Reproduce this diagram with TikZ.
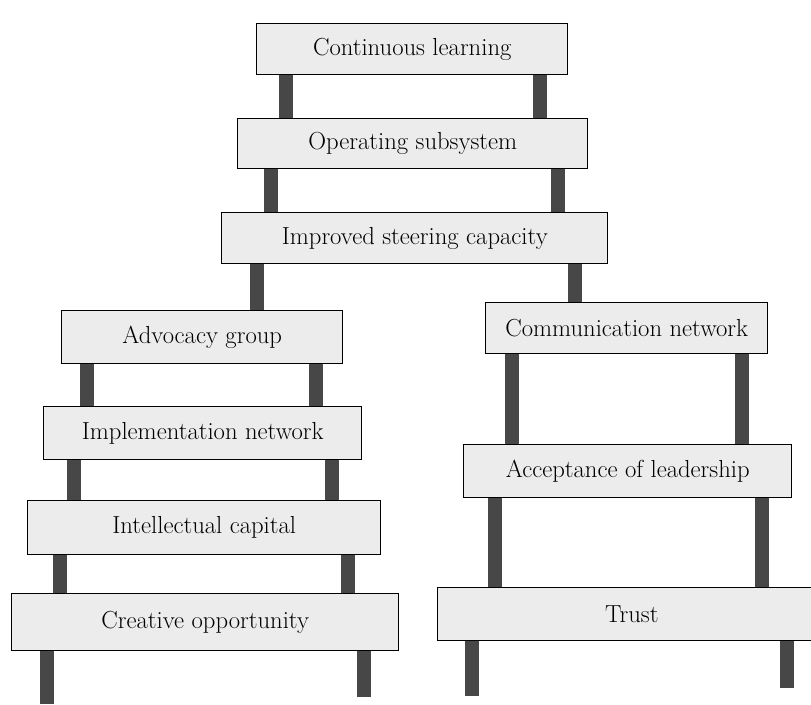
\documentclass[tikz,border=0pt]{standalone}
\usetikzlibrary{positioning}

\begin{document}
\begin{tikzpicture}[x=0.75pt,y=-0.75pt,
	rung/.style={draw=black, line width=1.1pt, fill=gray!15, anchor=north west,
		inner sep=0pt, font=\fontsize{18.5}{22}\selectfont},
	post/.style={draw=black!72, line width=10pt}]
	\clip (0,0) rectangle (811,704);
	\fill[white] (0,0) rectangle (811,704);
	% top ladder
	\node[rung, minimum width=233.25pt, minimum height=38.25pt] (cl) at (256,23) {Continuous learning};
	\node[rung, minimum width=262.5pt, minimum height=37.5pt] (os) at (237,118) {Operating subsystem};
	\node[rung, minimum width=289.5pt, minimum height=38.25pt] (isc) at (221,212) {Improved steering capacity};
	% left ladder
	\node[rung, minimum width=210.75pt, minimum height=39.75pt] (ag) at (61,310) {Advocacy group};
	\node[rung, minimum width=238.5pt, minimum height=39.75pt] (in) at (43,406) {Implementation network};
	\node[rung, minimum width=264.75pt, minimum height=40.5pt] (ic) at (27,500) {Intellectual capital};
	\node[rung, minimum width=290.25pt, minimum height=42.75pt] (co) at (11,593) {Creative opportunity};
	% right ladder
	\node[rung, minimum width=211.5pt, minimum height=38.25pt] (cn) at (485,302) {Communication network};
	\node[rung, minimum width=246pt, minimum height=39.75pt] (al) at (463,444) {Acceptance of leadership};
	\node[rung, minimum width=291pt, minimum height=39.75pt] (tr) at (437,587) {Trust};
	% feet of the posts
	\coordinate (coL) at (47,704);
	\coordinate (coR) at (364,697);
	\coordinate (trL) at (472,696);
	\coordinate (trR) at (787,688);
	% posts
	\draw[post] (286,0 |- cl.south) -- (286,0 |- os.north);
	\draw[post] (540,0 |- cl.south) -- (540,0 |- os.north);
	\draw[post] (271,0 |- os.south) -- (271,0 |- isc.north);
	\draw[post] (558,0 |- os.south) -- (558,0 |- isc.north);
	\draw[post] (257,0 |- isc.south) -- (257,0 |- ag.north);
	\draw[post] (575,0 |- isc.south) -- (575,0 |- cn.north);
	\draw[post] (87,0 |- ag.south) -- (87,0 |- in.north);
	\draw[post] (316,0 |- ag.south) -- (316,0 |- in.north);
	\draw[post] (74,0 |- in.south) -- (74,0 |- ic.north);
	\draw[post] (332,0 |- in.south) -- (332,0 |- ic.north);
	\draw[post] (60,0 |- ic.south) -- (60,0 |- co.north);
	\draw[post] (348,0 |- ic.south) -- (348,0 |- co.north);
	\draw[post] (coL |- co.south) -- (coL);
	\draw[post] (coR |- co.south) -- (coR);
	\draw[post] (512,0 |- cn.south) -- (512,0 |- al.north);
	\draw[post] (742,0 |- cn.south) -- (742,0 |- al.north);
	\draw[post] (495,0 |- al.south) -- (495,0 |- tr.north);
	\draw[post] (762,0 |- al.south) -- (762,0 |- tr.north);
	\draw[post] (trL |- tr.south) -- (trL);
	\draw[post] (trR |- tr.south) -- (trR);
\end{tikzpicture}
\end{document}
